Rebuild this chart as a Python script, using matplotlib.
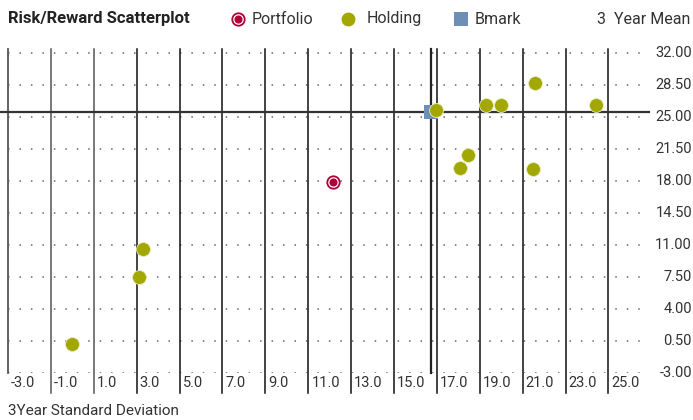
import numpy as np
import matplotlib.pyplot as plt
import matplotlib.transforms as mtransforms

plt.rcParams['font.family'] = ['Roboto', 'DejaVu Sans']

# data
holding_sd = [0.0, 3.1, 3.3, 16.95, 19.3, 20.0, 21.6, 24.4, 18.45, 18.1, 21.5]
holding_mean = [0.15, 7.5, 10.6, 25.8, 26.3, 26.3, 28.7, 26.3, 20.8, 19.4, 19.3]
portfolio_sd = [12.15]
portfolio_mean = [17.9]
bmark_sd = [16.75]
bmark_mean = [25.5]

x_ticks = np.arange(-3, 26, 2)
y_ticks = [-3.0, 0.5, 4.0, 7.5, 11.0, 14.5, 18.0, 21.5, 25.0, 28.5, 32.0]

fig = plt.figure(figsize=(6.93, 4.2), dpi=100)
ax = fig.add_axes([8 / 693, 47 / 420, 639 / 693, 322 / 420])
ax.set_xlim(-3, 26.8)
ax.set_ylim(-3, 32.2)
ax.axis('off')

# horizontal dotted grid
for y in y_ticks:
    ax.plot([-3, 26.8], [y, y], color='#666666', lw=1.1, ls=(0, (1, 6.5)), zorder=1)

# vertical lines, extended below the plot to the tick labels
trans = mtransforms.blended_transform_factory(ax.transData, ax.transAxes)
for i, x in enumerate(x_ticks):
    bottom = 0 if i == 0 else -0.062
    ax.plot([x, x], [bottom, 1.005], color='#555555' if i < 3 else '#111111',
            lw=1.3 if i == 0 else 1.1, transform=trans, clip_on=False, zorder=2)
    ax.text(x + 0.15, -0.03, f'{x:.1f}', transform=trans, ha='left', va='center',
            fontsize=10.5, color='#333333')

for y in y_ticks:
    ax.text(692 / 693, ax.transLimits.transform((0, y))[1] * 322 / 420 + 47 / 420,
            f'{y:.2f}', transform=fig.transFigure, ha='right', va='center',
            fontsize=10.5, color='#333333')

# crosshair at the benchmark
ax.plot([-3.37, 26.9], [bmark_mean[0], bmark_mean[0]], color='#333333', lw=1.6,
        clip_on=False, zorder=3)
ax.plot([bmark_sd[0], bmark_sd[0]], [-3, 32.4], color='#222222', lw=1.6,
        clip_on=False, zorder=3)

ax.scatter(bmark_sd, bmark_mean, marker='s', s=95, color='#6e8fb5', zorder=4,
           linewidths=0)
ax.scatter(holding_sd, holding_mean, s=100, color='#a2a800', edgecolors='#e8eac0',
           linewidths=0.6, zorder=5)
ax.scatter(portfolio_sd, portfolio_mean, s=105, color='#b0003a', zorder=6, linewidths=0)
ax.scatter(portfolio_sd, portfolio_mean, s=58, color='white', zorder=7, linewidths=0)
ax.scatter(portfolio_sd, portfolio_mean, s=34, color='#b0003a', zorder=8, linewidths=0)

# header and footer, in pixel coordinates
hdr = fig.add_axes([0, 0, 1, 1], facecolor='none')
hdr.set_xlim(0, 693)
hdr.set_ylim(420, 0)
hdr.axis('off')
hdr.text(8, 19, 'Risk/Reward Scatterplot', fontsize=12, fontweight='bold',
         ha='left', va='center', color='#222222')
hdr.scatter([238], [19], s=105, color='#b0003a', linewidths=0)
hdr.scatter([238], [19], s=58, color='white', linewidths=0)
hdr.scatter([238], [19], s=34, color='#b0003a', linewidths=0)
hdr.scatter([348], [19], s=100, color='#a2a800', linewidths=0)
hdr.scatter([461], [19], s=95, marker='s', color='#6e8fb5', linewidths=0)
hdr.text(252, 19, 'Portfolio', fontsize=11.5, ha='left', va='center', color='#333333')
hdr.text(367, 19, 'Holding', fontsize=11.5, ha='left', va='center', color='#333333')
hdr.text(475, 19, 'Bmark', fontsize=11.5, ha='left', va='center', color='#333333')
hdr.text(690, 19, '3  Year Mean', fontsize=11.5, ha='right', va='center', color='#333333')
hdr.text(8, 411, '3Year Standard Deviation', fontsize=11, ha='left', va='center',
         color='#333333')

fig.savefig('out.png', dpi=100)
